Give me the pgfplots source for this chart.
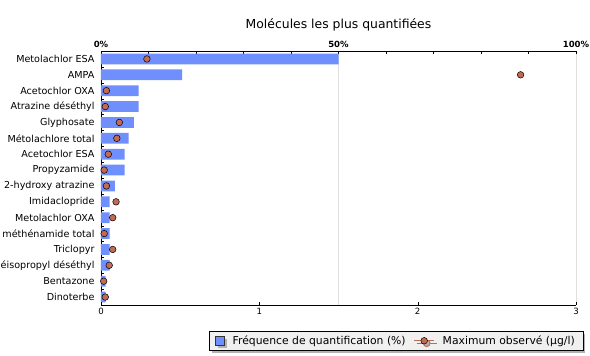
\documentclass[border=0pt]{standalone}
\usepackage{fontspec}
\setmainfont{DejaVu Sans}
\usepackage{pgfplots}
\pgfplotsset{compat=1.18}
\usetikzlibrary{shadows}
\definecolor{barblue}{HTML}{6E8FFC}
\definecolor{dotred}{HTML}{C36A55}
\pgfplotstableread{
idx freq maxv
0 50.0 0.29
1 17.1 2.65
2 7.9 0.034
3 7.9 0.027
4 6.9 0.116
5 5.8 0.100
6 5.0 0.046
7 5.0 0.020
8 2.9 0.034
9 1.8 0.095
10 1.8 0.074
11 1.8 0.020
12 1.8 0.074
13 1.8 0.052
14 1.0 0.017
15 1.0 0.027
}\datatable
\begin{document}
\begin{tikzpicture}
\useasboundingbox (0pt,0pt) rectangle (590pt,356pt);
\node[font=\fontsize{12.4}{14}\selectfont] at (338.5pt,331pt) {Molécules les plus quantifiées};
\begin{axis}[
  at={(101pt,51pt)}, anchor=south west,
  width=475pt, height=254pt, scale only axis,
  xmin=0, xmax=100, ymin=-0.5, ymax=15.5, y dir=reverse,
  axis x line*=top, axis y line*=left,
  axis line style={-, black},
  xtick={0,50,100}, xticklabels={0\%,50\%,100\%},
  minor xtick={10,20,30,40,60,70,80,90},
  xmajorgrids, grid style={gray!25},
  tick align=inside, major tick length=3pt, minor tick length=3pt,
  ytick={0,...,15},
  yticklabels={Metolachlor ESA,AMPA,Acetochlor OXA,Atrazine déséthyl,Glyphosate,Métolachlore total,Acetochlor ESA,Propyzamide,2-hydroxy atrazine,Imidaclopride,Metolachlor OXA,méthénamide total,Triclopyr,éisopropyl déséthyl,Bentazone,Dinoterbe},
  minor ytick={0.5,1.5,...,14.5},
  y tick style={draw=none}, minor y tick style={draw=black},
  tick style={black},
  yticklabel style={font=\fontsize{9.6}{11}\selectfont, xshift=-3pt},
  xticklabel style={font=\fontsize{8.5}{10}\selectfont\bfseries},
  /pgf/number format/assume math mode=true,
  legend columns=2,
  legend style={at={(1.0147,-0.1024)}, anchor=north east, fill=gray!12, draw=black,
    font=\fontsize{10.8}{12}\selectfont, inner xsep=6pt, inner ysep=2.5pt,
    drop shadow={shadow xshift=2.5pt, shadow yshift=-2.5pt, fill=gray!60, opacity=1},
    /tikz/every odd column/.append style={column sep=6pt},
    /tikz/every even column/.append style={column sep=6pt}},
]
\addplot[xbar, bar width=10.7pt, bar shift=0pt, fill=barblue, draw=none,
  legend image code/.code={\draw[fill=barblue, draw=black!80] (0pt,-4.5pt) rectangle (9pt,4.5pt);}]
  table[x=freq, y=idx] {\datatable};
\addlegendentry{Fréquence de quantification (\%)}
\addlegendimage{dotred, line width=1pt, mark=*, mark size=3.3pt, mark options={fill=dotred, draw=black, line width=0.5pt},
  legend image code/.code={\draw[dotred, line width=1pt] (0pt,0pt) -- (20pt,0pt); \fill[dotred, draw=black, line width=0.5pt] (10pt,0pt) circle (3.3pt);}}
\addlegendentry{Maximum observé (µg/l)}
\end{axis}
\begin{axis}[
  at={(101pt,51pt)}, anchor=south west,
  width=475pt, height=254pt, scale only axis,
  xmin=0, xmax=3, ymin=-0.5, ymax=15.5, y dir=reverse,
  axis x line*=bottom, axis y line=none,
  axis line style={-, black},
  xtick={0,1,2,3}, ytick=\empty,
  tick align=inside, major tick length=3pt, tick style={black},
  xticklabel style={font=\fontsize{8.6}{10}\selectfont},
  /pgf/number format/assume math mode=true,
]
\addplot[only marks, mark=*, mark size=3.3pt, mark options={fill=dotred, draw=black, line width=0.5pt}]
  table[x=maxv, y=idx] {\datatable};
\end{axis}
\end{tikzpicture}
\end{document}
